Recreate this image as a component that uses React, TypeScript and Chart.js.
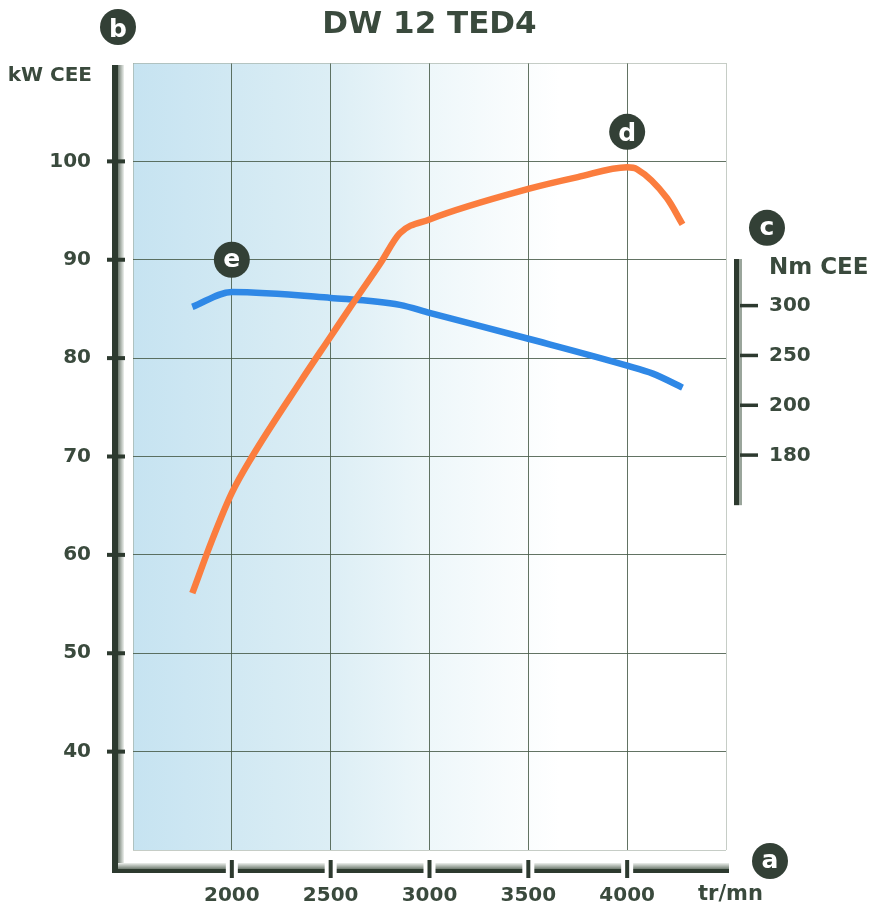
import { useEffect, useRef } from "react";
import { Chart, registerables } from "chart.js";

Chart.register(...registerables);

const TITLE = "DW 12 TED4";
const POWER_UNIT = "kW CEE";
const TORQUE_UNIT = "Nm CEE";
const RPM_UNIT = "tr/mn";

const POWER_RPM = [1800, 1900, 2000, 2100, 2350, 2500, 2600, 2750, 2850, 3000, 3500, 3750, 4000, 4050, 4200, 4280];
const POWER_KW = [56.1, 61.5, 66.3, 69.9, 77.7, 82.2, 85.2, 89.6, 92.7, 94.1, 97.2, 98.4, 99.4, 99.2, 96.3, 93.6];

const TORQUE_RPM = [1800, 2000, 2500, 2850, 3000, 3500, 4000, 4130, 4280];
const TORQUE_NM = [299, 314, 308, 301, 293, 267, 240, 232, 218];

const RPM_TICKS = [2000, 2500, 3000, 3500, 4000];
const KW_TICKS = [40, 50, 60, 70, 80, 90, 100];
const NM_TICK_VALUES = [300, 250, 200, 150];
const NM_TICK_LABELS = ["300", "250", "200", "180"];
const NM_AXIS_SPAN = [100, 347];

const RPM_RANGE = [1500, 4500];
const KW_RANGE = [30, 110];
const NM_RANGE = [-246, 543.7];

const INK = "#3a4a3d";
const FONT = '"DejaVu Sans", sans-serif';

function badge(ctx: CanvasRenderingContext2D, cx: number, cy: number, letter: string) {
  ctx.save();
  ctx.fillStyle = "#334036";
  ctx.beginPath();
  ctx.arc(cx, cy, 18, 0, Math.PI * 2);
  ctx.fill();
  const fs = 25;
  ctx.font = `bold ${fs}px ${FONT}`;
  ctx.fillStyle = "#ffffff";
  ctx.textAlign = "center";
  ctx.textBaseline = "alphabetic";
  const tall = letter === "b" || letter === "d";
  ctx.fillText(letter, cx, cy + (tall ? 0.38 : 0.27) * fs);
  ctx.restore();
}

const decor = {
  id: "decor",
  beforeDraw(chart: any) {
    const { ctx, chartArea: ca } = chart;
    ctx.save();
    ctx.fillStyle = "#ffffff";
    ctx.fillRect(0, 0, chart.width, chart.height);
    const g = ctx.createLinearGradient(ca.left, 0, ca.right, 0);
    g.addColorStop(0, "#c6e3f1");
    g.addColorStop(0.33, "#dceef5");
    g.addColorStop(0.5, "#eef7fa");
    g.addColorStop(0.72, "#ffffff");
    g.addColorStop(1, "#ffffff");
    ctx.fillStyle = g;
    ctx.fillRect(ca.left, ca.top, ca.right - ca.left, ca.bottom - ca.top);
    ctx.restore();
  },
  afterDraw(chart: any) {
    const { ctx, chartArea: ca } = chart;
    const xs = chart.scales.x;
    const ys = chart.scales.y;
    const y2 = chart.scales.y2;
    ctx.save();

    // left axis
    const lTop = ca.top + 2;
    const lBot = ca.bottom + 23;
    const shL = ctx.createLinearGradient(ca.left - 15, 0, ca.left - 9, 0);
    shL.addColorStop(0, "#6f7b70");
    shL.addColorStop(1, "#eef1ee");
    ctx.fillStyle = shL;
    ctx.fillRect(ca.left - 15, lTop, 6, ca.bottom + 14 - lTop);
    ctx.fillStyle = "#2d3a2f";
    ctx.fillRect(ca.left - 21, lTop, 6, lBot - lTop);

    // bottom axis
    const shB = ctx.createLinearGradient(0, ca.bottom + 19, 0, ca.bottom + 13);
    shB.addColorStop(0, "#6f7b70");
    shB.addColorStop(1, "#eef1ee");
    ctx.fillStyle = shB;
    ctx.fillRect(ca.left - 15, ca.bottom + 13, ca.right + 3 - (ca.left - 15), 6);
    ctx.fillStyle = "#2d3a2f";
    ctx.fillRect(ca.left - 21, ca.bottom + 19, ca.right + 3 - (ca.left - 21), 4);

    // bottom ticks
    RPM_TICKS.forEach((v) => {
      const px = xs.getPixelForValue(v);
      ctx.fillStyle = "#ffffff";
      ctx.fillRect(px - 6, ca.bottom + 12, 12, 12);
      ctx.fillStyle = "#2d3a2f";
      ctx.fillRect(px - 2, ca.bottom + 10, 4, 18);
    });

    // left ticks
    KW_TICKS.forEach((v) => {
      const py = ys.getPixelForValue(v);
      ctx.fillStyle = "#2d3a2f";
      ctx.fillRect(ca.left - 26, py - 2, 18, 4);
    });

    // right axis
    const rTop = y2.getPixelForValue(NM_AXIS_SPAN[1]);
    const rBot = y2.getPixelForValue(NM_AXIS_SPAN[0]);
    ctx.fillStyle = "#9aa59b";
    ctx.fillRect(ca.right + 13, rTop, 3, rBot - rTop);
    ctx.fillStyle = "#2d3a2f";
    ctx.fillRect(ca.right + 8, rTop, 5, rBot - rTop);
    ctx.font = `bold 20px ${FONT}`;
    ctx.textAlign = "left";
    ctx.textBaseline = "middle";
    NM_TICK_VALUES.forEach((v, i) => {
      const py = y2.getPixelForValue(v);
      ctx.fillStyle = "#2d3a2f";
      ctx.fillRect(ca.right + 14, py - 2, 18, 3.5);
      ctx.fillStyle = INK;
      ctx.fillText(NM_TICK_LABELS[i], ca.right + 43, py);
    });
    ctx.font = `bold 23px ${FONT}`;
    ctx.fillText(TORQUE_UNIT, ca.right + 43, y2.getPixelForValue(300) - 38);

    // units
    ctx.font = `bold 20px ${FONT}`;
    ctx.textAlign = "right";
    ctx.fillText(POWER_UNIT, ca.left - 41, ca.top + 13);
    ctx.font = `bold 21px ${FONT}`;
    ctx.textAlign = "left";
    ctx.fillText(RPM_UNIT, ca.right - 28, ca.bottom + 45);

    // title
    ctx.font = `bold 31px ${FONT}`;
    ctx.textAlign = "center";
    ctx.fillStyle = INK;
    ctx.fillText(TITLE, (ca.left + ca.right) / 2, 17);

    // badges
    badge(ctx, ca.left - 15, 19, "b");
    badge(ctx, ca.right + 44, ca.bottom + 11, "a");
    badge(ctx, ca.right + 41, y2.getPixelForValue(300) - 78, "c");
    badge(ctx, xs.getPixelForValue(4000), ys.getPixelForValue(103), "d");
    badge(ctx, xs.getPixelForValue(2000), ys.getPixelForValue(90), "e");

    ctx.restore();
  },
};

export default function App() {
  const ref = useRef<HTMLCanvasElement>(null);
  useEffect(() => {
    const edge = (v: number, lo: number, hi: number) => v === lo || v === hi;
    const chart = new Chart(ref.current as HTMLCanvasElement, {
      type: "line",
      data: {
        datasets: [
          {
            label: "Puissance",
            data: POWER_RPM.map((r, i) => ({ x: r, y: POWER_KW[i] })),
            borderColor: "#fb7d3e",
            borderWidth: 6.5,
            pointRadius: 0,
            cubicInterpolationMode: "monotone",
            yAxisID: "y",
            fill: false,
          },
          {
            label: "Couple",
            data: TORQUE_RPM.map((r, i) => ({ x: r, y: TORQUE_NM[i] })),
            borderColor: "#2f88e6",
            borderWidth: 6.5,
            pointRadius: 0,
            cubicInterpolationMode: "monotone",
            yAxisID: "y2",
            fill: false,
          },
        ],
      },
      options: {
        responsive: false,
        animation: false,
        layout: { padding: { top: 55, right: 146, left: 0, bottom: 0 } },
        plugins: {
          legend: { display: false },
          tooltip: { enabled: false },
          title: { display: false },
        },
        scales: {
          x: {
            type: "linear",
            position: "bottom",
            min: RPM_RANGE[0],
            max: RPM_RANGE[1],
            afterFit: (s: any) => {
              s.height = 58;
            },
            ticks: {
              stepSize: 500,
              padding: 34,
              autoSkip: false,
              maxRotation: 0,
              color: INK,
              font: { family: FONT, size: 20, weight: "bold" },
              callback: (v: any) => (RPM_TICKS.includes(Number(v)) ? String(v) : ""),
            },
            grid: {
              drawTicks: false,
              lineWidth: 1,
              color: (c: any) =>
                c.tick && edge(c.tick.value, RPM_RANGE[0], RPM_RANGE[1])
                  ? "rgba(160,172,160,0.6)"
                  : "rgba(70,90,72,0.85)",
            },
            border: { display: false },
          },
          y: {
            type: "linear",
            position: "left",
            min: KW_RANGE[0],
            max: KW_RANGE[1],
            afterFit: (s: any) => {
              s.width = 125;
            },
            ticks: {
              stepSize: 10,
              padding: 42,
              color: INK,
              font: { family: FONT, size: 20, weight: "bold" },
              callback: (v: any) => (KW_TICKS.includes(Number(v)) ? String(v) : ""),
            },
            grid: {
              drawTicks: false,
              lineWidth: 1,
              color: (c: any) =>
                c.tick && edge(c.tick.value, KW_RANGE[0], KW_RANGE[1])
                  ? "rgba(160,172,160,0.6)"
                  : "rgba(70,90,72,0.85)",
            },
            border: { display: false },
          },
          y2: {
            type: "linear",
            position: "right",
            display: false,
            min: NM_RANGE[0],
            max: NM_RANGE[1],
          },
        },
      } as any,
      plugins: [decor],
    });
    return () => chart.destroy();
  }, []);
  return <canvas ref={ref} width={864} height={900} style={{ display: "block" }} />;
}
